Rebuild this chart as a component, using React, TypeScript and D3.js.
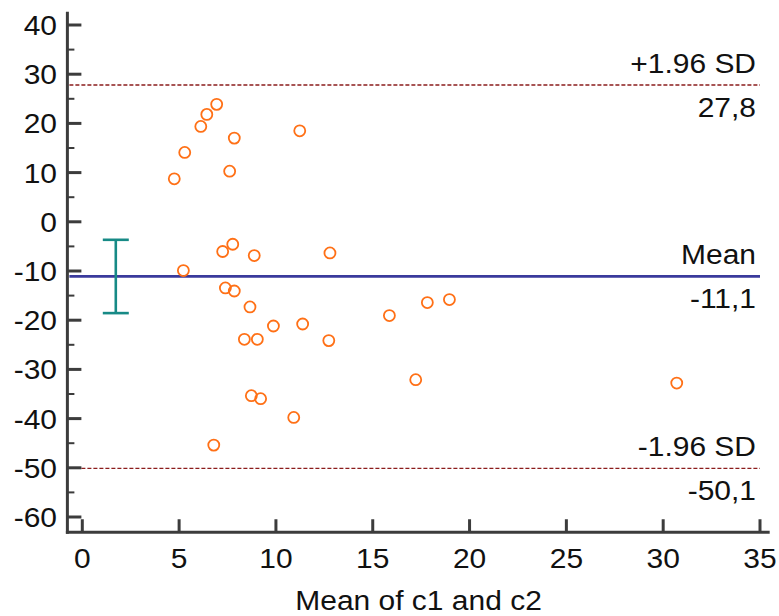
import React from "react";
import * as d3 from "d3";

// mean of the two methods (x) and their difference (y)
const meanVals = [
  6.94, 6.43, 6.12, 7.85, 11.23, 5.29, 4.75, 7.61, 7.77, 7.25,
  8.88, 12.79, 5.22, 7.39, 7.85, 8.66, 9.87, 11.38, 8.37, 9.04,
  12.73, 15.86, 17.82, 18.96, 17.22, 8.73, 9.21, 10.92, 6.79, 30.7,
];
const diffVals = [
  23.87, 21.83, 19.39, 17.01, 18.49, 14.1, 8.73, 10.29, -4.56, -6.04,
  -6.86, -6.33, -9.91, -13.45, -14.06, -17.31, -21.18, -20.77, -23.89, -23.89,
  -24.15, -19.06, -16.42, -15.81, -32.09, -35.34, -35.95, -39.76, -45.39, -32.78,
];

const meanDiff = -11.1;
const upperLoA = 27.8;
const lowerLoA = -50.1;
const ciLow = -18.56;
const ciHigh = -3.66;
const ciX = 1.73;

const xTicks = [0, 5, 10, 15, 20, 25, 30, 35];
const yTicks = [-60, -50, -40, -30, -20, -10, 0, 10, 20, 30, 40];
const yMinor = [-55, -45, -35, -25, -15, -5, 5, 15, 25, 35];
const xTitle = "Mean of c1 and c2";

const W = 779, H = 616;
const x = d3.scaleLinear().domain([0, 35]).range([82.3, 760]);
const y = d3.scaleLinear().domain([-60, 40]).range([517, 25]);
const xLo = -0.77, xHi = 35.5;
const yLo = -63.1, yHi = 42.7;

const axisCol = "#3c3c3c";
const font = "'Liberation Sans', Arial, sans-serif";
const fs = 27.5;
const sx = 1.09;

const T = ({ x0, y0, anchor, children, size = fs }: any) => (
  <text
    transform={`translate(${x0},${y0}) scale(${sx},1)`}
    textAnchor={anchor}
    fontSize={size}
    fontFamily={font}
    fill="#111"
  >
    {children}
  </text>
);

const fmt = (v: number) => v.toFixed(1).replace(".", ",");

export default function App() {
  const left = x(xLo);
  const bottom = y(yLo);
  const lineEnd = x(35);
  const labelX = 756;
  const refLines = [
    { v: upperLoA, name: "+1.96 SD", color: "#8b1c1c", dash: "4,2", w: 1.3 },
    { v: meanDiff, name: "Mean", color: "#3a3a9c", dash: null, w: 2.6 },
    { v: lowerLoA, name: "-1.96 SD", color: "#8b1c1c", dash: "4,2", w: 1.3 },
  ];
  return (
    <svg width={W} height={H} style={{ position: "absolute", left: 0, top: 0, background: "#fff" }}>
      {refLines.map((r) => (
        <g key={r.name}>
          <line
            x1={left + 2}
            x2={lineEnd}
            y1={y(r.v)}
            y2={y(r.v)}
            stroke={r.color}
            strokeWidth={r.w}
            strokeDasharray={r.dash || undefined}
          />
          <T x0={labelX} y0={y(r.v) - 12} anchor="end">{r.name}</T>
          <T x0={labelX} y0={y(r.v) + 32} anchor="end">{fmt(r.v)}</T>
        </g>
      ))}

      {/* confidence interval of the mean */}
      <g stroke="#178a86" strokeWidth={2.6}>
        <line x1={x(ciX)} x2={x(ciX)} y1={y(ciHigh)} y2={y(ciLow)} />
        <line x1={x(ciX) - 13} x2={x(ciX) + 13} y1={y(ciHigh)} y2={y(ciHigh)} />
        <line x1={x(ciX) - 13} x2={x(ciX) + 13} y1={y(ciLow)} y2={y(ciLow)} />
      </g>

      {meanVals.map((m, i) => (
        <circle key={i} cx={x(m)} cy={y(diffVals[i])} r={5.5} fill="none" stroke="#ff7016" strokeWidth={1.8} />
      ))}

      {/* axes */}
      <g stroke={axisCol} strokeWidth={3}>
        <line x1={left} x2={left} y1={y(yHi)} y2={bottom + 1.5} />
        <line x1={left - 1.5} x2={x(xHi)} y1={bottom} y2={bottom} />
        {yTicks.map((t) => (
          <line key={t} x1={left} x2={left + 14} y1={y(t)} y2={y(t)} />
        ))}
        {yMinor.map((t) => (
          <line key={t} x1={left} x2={left + 7} y1={y(t)} y2={y(t)} strokeWidth={2} />
        ))}
        {xTicks.map((t) => (
          <line key={t} x1={x(t)} x2={x(t)} y1={bottom} y2={bottom - 13} />
        ))}
      </g>
      {yTicks.map((t) => (
        <T key={t} x0={57} y0={y(t) + 10} anchor="end">{t}</T>
      ))}
      {xTicks.map((t) => (
        <T key={t} x0={x(t)} y0={568} anchor="middle">{t}</T>
      ))}
      <T x0={(left + x(xHi)) / 2} y0={610} anchor="middle">{xTitle}</T>
    </svg>
  );
}
